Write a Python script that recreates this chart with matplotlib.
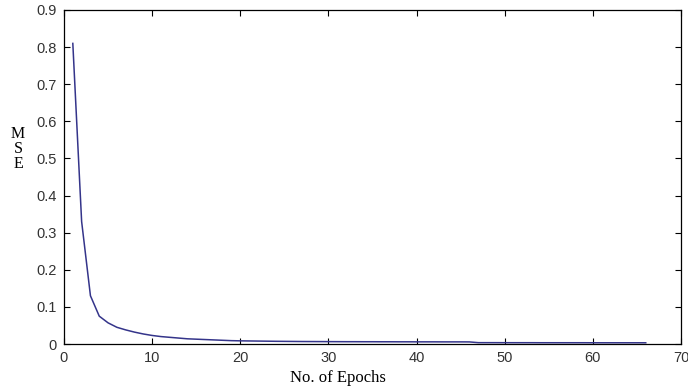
import matplotlib
matplotlib.use("Agg")
import matplotlib.pyplot as plt

epochs = list(range(1, 67))
mse = [0.81, 0.33, 0.13, 0.075, 0.057, 0.045, 0.038, 0.032, 0.027, 0.023,
       0.020, 0.018, 0.016, 0.014, 0.013, 0.012, 0.011, 0.010, 0.009, 0.0085,
       0.0082, 0.0079, 0.0076, 0.0073, 0.0071, 0.0069, 0.0067, 0.0066, 0.0065, 0.0064,
       0.0063, 0.0062, 0.0062, 0.0061, 0.0061, 0.0060, 0.0060, 0.0059, 0.0059, 0.0058,
       0.0058, 0.0058, 0.0057, 0.0057, 0.0057, 0.0056,
       0.0036, 0.0036, 0.0036, 0.0035, 0.0035, 0.0035, 0.0035, 0.0034, 0.0034, 0.0034,
       0.0034, 0.0034, 0.0034, 0.0033, 0.0033, 0.0033, 0.0033, 0.0033, 0.0033, 0.0033]
xticks = [0, 10, 20, 30, 40, 50, 60, 70]
yticks = [0, 0.1, 0.2, 0.3, 0.4, 0.5, 0.6, 0.7, 0.8, 0.9]
yticklabels = ["0", "0.1", "0.2", "0.3", "0.4", "0.5", "0.6", "0.7", "0.8", "0.9"]

fig = plt.figure(figsize=(6.88, 3.90), dpi=100)
ax = fig.add_axes([64/688, 1 - 344/390, (681-64)/688, (344-10)/390])
ax.plot(epochs, mse, color="#34348a", linewidth=1.1)
ax.set_xlim(0, 70)
ax.set_ylim(0, 0.9)
ax.set_xticks(xticks)
ax.set_yticks(yticks)
ax.set_yticklabels(yticklabels)
ax.tick_params(direction="in", length=4, width=0.8, top=True, right=True,
               labelsize=10.5, colors="black", pad=5)
for lab in ax.get_xticklabels() + ax.get_yticklabels():
    lab.set_fontfamily("Liberation Sans")
    lab.set_color("#333333")
for s in ax.spines.values():
    s.set_linewidth(0.9)

fig.text(338/688, 1 - 378/390, "No. of Epochs", family="Liberation Serif",
         fontsize=12, ha="center", va="center")
fig.text(18/688, 1 - 149/390, "M\nS\nE", family="Liberation Serif",
         fontsize=11.5, ha="center", va="center", linespacing=0.95)

fig.savefig("out.png", dpi=100)
